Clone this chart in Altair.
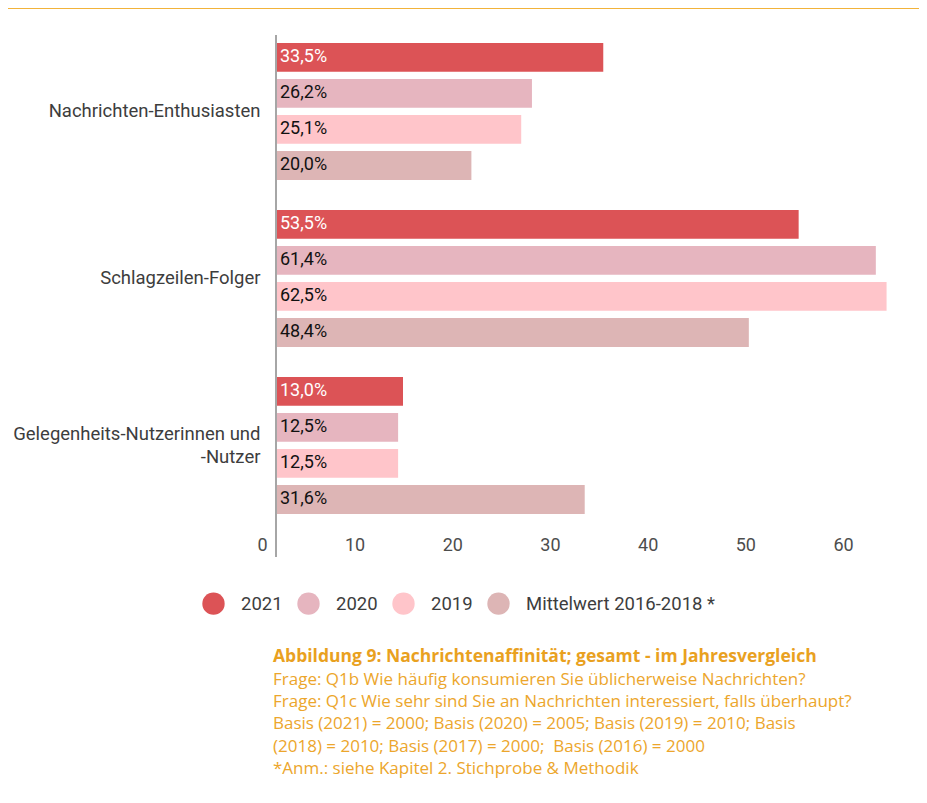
import altair as alt
import pandas as pd

groups = ["Nachrichten-Enthusiasten", "Schlagzeilen-Folger", "Gelegenheits-Nutzerinnen und -Nutzer"]
series = ["2021", "2020", "2019", "Mittelwert 2016-2018 *"]
colors = ["#DC5356", "#E6B5BF", "#FFC5CA", "#DDB5B5"]
v2021 = [33.5, 53.5, 13.0]
v2020 = [26.2, 61.4, 12.5]
v2019 = [25.1, 62.5, 12.5]
vmean = [20.0, 48.4, 31.6]
x_ticks = [0, 10, 20, 30, 40, 50, 60]
caption_title = "Abbildung 9: Nachrichtenaffinität; gesamt - im Jahresvergleich"
caption_lines = [
    "Frage: Q1b Wie häufig konsumieren Sie üblicherweise Nachrichten?",
    "Frage: Q1c Wie sehr sind Sie an Nachrichten interessiert, falls überhaupt?",
    "Basis (2021) = 2000; Basis (2020) = 2005; Basis (2019) = 2010; Basis",
    "(2018) = 2010; Basis (2017) = 2000;\u00a0 Basis (2016) = 2000",
    "*Anm.: siehe Kapitel 2. Stichprobe & Methodik",
]

rows = []
for s, vals in zip(series, [v2021, v2020, v2019, vmean]):
    for g, v in zip(groups, vals):
        rows.append({"group": g, "series": s, "value": v,
                     "label": f"{v:.1f}".replace(".", ",") + "%"})
df = pd.DataFrame(rows)

one = pd.DataFrame({"k": [0]})

multi_test = "datum.value == '" + groups[2] + "'"
label_expr = multi_test + " ? ['Gelegenheits-Nutzerinnen und', '-Nutzer'] : datum.value"

y_enc = alt.Y("group:N", sort=groups,
              scale=alt.Scale(paddingInner=0.18, paddingOuter=0.072, align=0.33),
              axis=alt.Axis(title=None, domain=False, ticks=False, labelFont="Roboto",
                            labelFontSize=18.5, labelColor="#3d3d3d",
                            labelPadding=16, labelLimit=400, labelLineHeight=23,
                            labelExpr=label_expr,
                            labelOffset={"condition": {"test": multi_test, "value": -11.5}, "value": 0}))
yoff = alt.YOffset("series:N", sort=series, scale=alt.Scale(paddingInner=0.2, paddingOuter=0))
x_enc = alt.X("value:Q", scale=alt.Scale(domain=[0, 65], nice=False),
              axis=alt.Axis(title=None, values=x_ticks, domain=False, ticks=False, grid=False,
                            labelAlign="right", labelOffset=-9, labelPadding=6,
                            labelFont="Roboto", labelFontSize=18, labelColor="#4d4d4d"))

bars = alt.Chart(df).mark_bar().encode(
    x=x_enc, y=y_enc, yOffset=yoff,
    color=alt.Color("series:N", sort=series,
                    scale=alt.Scale(domain=series, range=colors),
                    legend=alt.Legend(title=None, orient="none", legendX=-74, legendY=557,
                                      direction="horizontal", symbolType="circle",
                                      symbolSize=500, symbolStrokeWidth=0, symbolOpacity=1,
                                      labelFont="Roboto", labelFontSize=18.5,
                                      labelColor="#3d3d3d", labelLimit=400,
                                      labelOffset=16, columnPadding=14, padding=0)),
)

texts = alt.Chart(df).mark_text(align="left", baseline="middle", dx=4, font="Roboto",
                                fontSize=18).encode(
    x=alt.datum(0), y=alt.Y("group:N", sort=groups), yOffset=alt.YOffset("series:N", sort=series),
    text="label:N",
    color=alt.condition(alt.datum.series == "2021", alt.value("white"), alt.value("#111111")),
)

axis_rule = alt.Chart(one).mark_rule(color="#a6a6a6", strokeWidth=2).encode(
    x=alt.datum(0), y=alt.value(0), y2=alt.value(522))

top_rule = alt.Chart(one).mark_rule(color="#F2B33A", strokeWidth=2).encode(
    x=alt.value(-268), x2=alt.value(643), y=alt.value(-27))

cap1 = alt.Chart(one).mark_text(align="left", baseline="middle", font="Open Sans", fontSize=17.5,
                                fontWeight="bold", color="#E9A11F").encode(
    x=alt.value(-3), y=alt.value(622), text=alt.value(caption_title))

cap2 = alt.Chart(one).mark_text(align="left", baseline="middle", font="Open Sans", fontSize=17,
                                lineHeight=22.2, color="#ECA62C").encode(
    x=alt.value(-3), y=alt.value(645), text=alt.value(caption_lines))

chart = alt.layer(top_rule, bars, texts, axis_rule, cap1, cap2).properties(
    width=635, height=495,
    padding={"left": 268, "top": 27, "right": 8, "bottom": 257},
    autosize=alt.AutoSizeParams(type="none"),
).configure_view(stroke=None)

chart.save("out.html", embed_options={"renderer": "svg", "actions": False})
